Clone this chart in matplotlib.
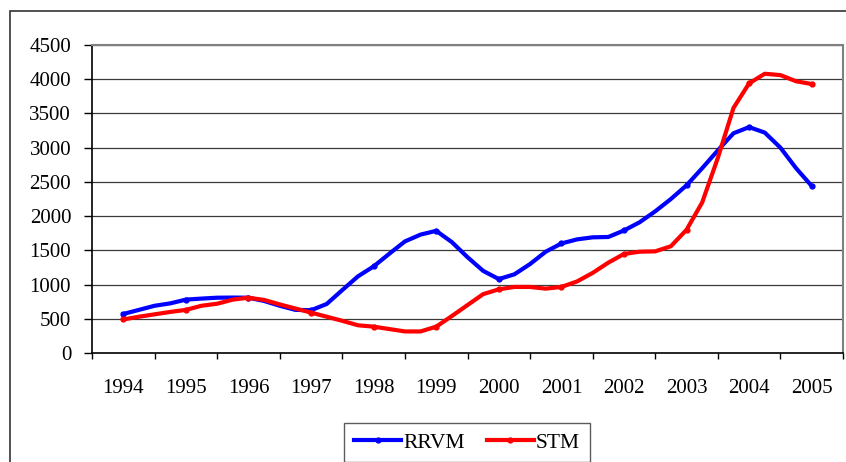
import numpy as np
import matplotlib
matplotlib.use("Agg")
import matplotlib.pyplot as plt
from matplotlib.patches import Rectangle

# year labels (categories) and quarterly readings of the two series
years = ['1994', '1995', '1996', '1997', '1998', '1999',
         '2000', '2001', '2002', '2003', '2004', '2005']

rrvm = [570, 630, 690, 725, 780, 795, 808, 810, 808, 760, 690, 630,
        625, 716, 920, 1120, 1265, 1450, 1630, 1730, 1785, 1620, 1400, 1200,
        1080, 1150, 1300, 1480, 1600, 1660, 1690, 1695, 1790, 1910, 2070, 2250,
        2450, 2700, 2960, 3210, 3300, 3220, 3000, 2700, 2440]

stm = [490, 530, 565, 600, 630, 690, 720, 780, 808, 775, 710, 650,
       590, 530, 470, 405, 385, 350, 315, 315, 385, 540, 700, 860,
       930, 965, 965, 940, 965, 1045, 1170, 1320, 1447, 1480, 1485, 1560,
       1800, 2200, 2850, 3580, 3940, 4080, 4060, 3970, 3930]

# quarter positions on the category axis (0 = 1994)
xq = np.arange(len(rrvm)) / 4.0

plt.rcParams['font.family'] = ['Liberation Serif', 'DejaVu Serif']

fig = plt.figure(figsize=(8.46, 4.62), dpi=100)
ax = fig.add_axes([92 / 846, 1 - 353 / 462, (843 - 92) / 846, (353 - 45) / 462])

# outer chart frame (runs off the right and bottom edges)
fig.patches.append(Rectangle((10 / 846, -0.1), 1.2, 1 - 11 / 462 + 0.1,
                             transform=fig.transFigure, fill=False,
                             edgecolor='#333333', lw=1.2))

for v in range(500, 4501, 500):
    ax.axhline(v, color='#3a3a3a', lw=0.9, zorder=1)

ax.plot(xq, rrvm, color='#0000FF', lw=3, marker='o', ms=3.5,
        markevery=4, label='RRVM', zorder=3)
ax.plot(xq, stm, color='#FF0000', lw=3, marker='o', ms=3.5,
        markevery=4, label='STM', zorder=3)

ax.set_xlim(-0.5, 11.5)
ax.set_ylim(0, 4500)
ax.set_yticks(range(0, 4501, 500))
ax.tick_params(axis='y', direction='out', length=6, width=1, pad=9,
               labelsize=15, color='black')

ax.set_xticks(np.arange(-0.5, 12, 1))
ax.set_xticklabels([])
ax.set_xticks(np.arange(12), minor=True)
ax.set_xticklabels(years, minor=True, fontsize=15)
ax.tick_params(axis='x', which='major', direction='out', length=4, width=1)
ax.tick_params(axis='x', which='minor', length=0, pad=19)

ax.spines['left'].set_color('black')
ax.spines['bottom'].set_color('black')
ax.spines['left'].set_linewidth(1.2)
ax.spines['bottom'].set_linewidth(1.2)
ax.spines['top'].set_color('#808080')
ax.spines['right'].set_color('#808080')
ax.spines['top'].set_linewidth(1.5)
ax.spines['right'].set_linewidth(1.5)

leg = fig.legend(loc='upper center', bbox_to_anchor=(467 / 846, 1 - 423 / 462),
                 ncol=2, fontsize=15.5, frameon=True, fancybox=False,
                 handlelength=2.2, handletextpad=0.1, columnspacing=1.0,
                 borderpad=0.45, borderaxespad=0)
leg.get_frame().set_edgecolor('#333333')
leg.get_frame().set_linewidth(1)

fig.savefig('out.png', dpi=100)
